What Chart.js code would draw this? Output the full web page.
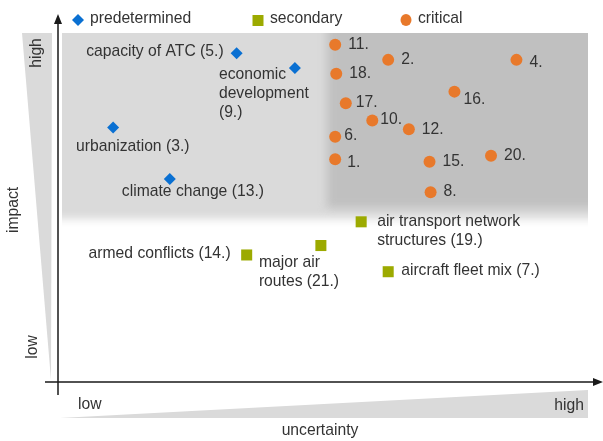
<!DOCTYPE html>
<html lang="en">
<head>
  <meta charset="UTF-8" />
  <title>Impact / uncertainty</title>
  <script src="https://cdn.jsdelivr.net/npm/chart.js"></script>
<style>
  body { margin: 0; background: #fff; }
  #wrap { width: 603px; height: 441px; }
</style>
</head>
<body>
  <div id="wrap"><canvas id="matrix" width="603" height="441"></canvas></div>
<script>
  // values, 0..100 on both axes
  const predeterminedNames = ['capacity of ATC (5.)', 'economic\ndevelopment\n(9.)', 'urbanization (3.)', 'climate change (13.)'];
  const predeterminedX = [33.7, 44.7, 10.4, 21.1];
  const predeterminedY = [94.2, 90.0, 72.9, 58.2];

  const secondaryNames = ['armed conflicts (14.)', 'major air\nroutes (21.)', 'air transport network\nstructures (19.)', 'aircraft fleet mix (7.)'];
  const secondaryX = [35.6, 49.6, 57.2, 62.3];
  const secondaryY = [36.4, 39.1, 45.9, 31.6];

  const criticalNames = ['11.', '2.', '4.', '18.', '16.', '17.', '10.', '12.', '6.', '1.', '15.', '20.', '8.'];
  const criticalX = [52.3, 62.3, 86.5, 52.5, 74.8, 54.3, 59.3, 66.2, 52.3, 52.3, 70.1, 81.7, 70.3];
  const criticalY = [96.6, 92.3, 92.3, 88.3, 83.2, 79.9, 74.9, 72.4, 70.3, 63.8, 63.1, 64.8, 54.4];

  const seriesNames = ['predetermined', 'secondary', 'critical'];

  const toPoints = (xs, ys) => xs.map((x, i) => ({ x: x, y: ys[i] }));

  // label placement: [dx, dy, align] relative to the marker
  const labelPos = {
    'capacity of ATC (5.)': [-13, -2, 'right'],
    'economic\ndevelopment\n(9.)': [-76, 7, 'left'],
    'urbanization (3.)': [-37, 19, 'left'],
    'climate change (13.)': [-48, 13, 'left'],
    'armed conflicts (14.)': [-16, -1, 'right'],
    'major air\nroutes (21.)': [-62, 17, 'left'],
    'air transport network\nstructures (19.)': [16, 0, 'left'],
    'aircraft fleet mix (7.)': [13, -1, 'left'],
    '4.': [13, 3, 'left'],
    '16.': [9, 8, 'left'],
    '17.': [10, 0, 'left'],
    '10.': [8, -1, 'left'],
    '6.': [9, -1, 'left'],
    '1.': [12, 3, 'left']
  };

  const FONT = '15.7px "Liberation Sans", Arial, sans-serif';
  const TEXT = '#333';

  const backdrop = {
    id: 'backdrop',
    beforeDatasetsDraw(chart) {
      const c = chart.ctx;
      c.save();
      // wedges along the axes
      c.fillStyle = '#dadada';
      c.beginPath();
      c.moveTo(22, 33); c.lineTo(52, 33); c.lineTo(51, 380); c.closePath();
      c.fill();
      c.beginPath();
      c.moveTo(60, 418); c.lineTo(588, 390); c.lineTo(588, 418); c.closePath();
      c.fill();

      // shaded upper area, soft bottom and soft split
      c.save();
      c.beginPath();
      c.rect(62, 33, 526, 215);
      c.clip();
      c.filter = 'blur(4px)';
      c.fillStyle = '#dadada';
      c.fillRect(20, 0, 620, 219);
      c.fillStyle = '#c0c0c0';
      c.fillRect(327, 0, 320, 208);
      c.restore();

      // axes
      c.strokeStyle = '#1a1a1a';
      c.fillStyle = '#1a1a1a';
      c.lineWidth = 1.5;
      c.beginPath();
      c.moveTo(58, 395); c.lineTo(58, 22);
      c.moveTo(45, 382); c.lineTo(594, 382);
      c.stroke();
      c.beginPath();
      c.moveTo(58, 14); c.lineTo(54, 24); c.lineTo(62, 24); c.closePath();
      c.fill();
      c.beginPath();
      c.moveTo(603, 382); c.lineTo(593, 378); c.lineTo(593, 386); c.closePath();
      c.fill();

      // axis words
      c.font = FONT;
      c.fillStyle = TEXT;
      c.textBaseline = 'middle';
      c.textAlign = 'left';
      c.fillText('low', 78, 405);
      c.textAlign = 'right';
      c.fillText('high', 584, 406);
      c.textAlign = 'center';
      c.fillText('uncertainty', 320, 431);
      const vtext = (t, x, y) => {
        c.save();
        c.translate(x, y);
        c.rotate(-Math.PI / 2);
        c.fillText(t, 0, 0);
        c.restore();
      };
      vtext('high', 37, 53);
      vtext('impact', 14, 210);
      vtext('low', 33, 347);
      c.restore();
    },
    afterDatasetsDraw(chart) {
      const c = chart.ctx;
      c.save();
      c.font = FONT;
      c.fillStyle = TEXT;
      c.textBaseline = 'middle';
      chart.data.datasets.forEach((ds, di) => {
        const meta = chart.getDatasetMeta(di);
        meta.data.forEach((pt, i) => {
          const name = ds.names[i];
          const p = labelPos[name] || [13, 0, 'left'];
          c.textAlign = p[2];
          name.split('\n').forEach((line, k) => {
            c.fillText(line, pt.x + p[0], pt.y + p[1] + k * 19);
          });
        });
      });

      // legend
      const legendX = [78, 258, 406];
      chart.data.datasets.forEach((ds, di) => {
        const x = legendX[di], y = 20;
        c.fillStyle = ds.backgroundColor;
        c.beginPath();
        if (ds.pointStyle === 'rectRot') {
          c.moveTo(x, y - 6); c.lineTo(x + 6, y); c.lineTo(x, y + 6); c.lineTo(x - 6, y);
        } else if (ds.pointStyle === 'rect') {
          c.rect(x - 5.5, y - 5, 11, 11);
        } else {
          c.ellipse(x, y, 5.5, 6, 0, 0, Math.PI * 2);
        }
        c.closePath();
        c.fill();
        c.fillStyle = TEXT;
        c.textAlign = 'left';
        c.fillText(ds.label, x + 12, y - 1);
      });
      c.restore();
    }
  };

  new Chart(document.getElementById('matrix'), {
    type: 'scatter',
    data: {
      datasets: [{
        label: seriesNames[0],
        names: predeterminedNames,
        data: toPoints(predeterminedX, predeterminedY),
        pointStyle: 'rectRot',
        pointRadius: 6,
        backgroundColor: '#0a70d2',
        borderWidth: 0
      }, {
        label: seriesNames[1],
        names: secondaryNames,
        data: toPoints(secondaryX, secondaryY),
        pointStyle: 'rect',
        pointRadius: 7.8,
        backgroundColor: '#9caa00',
        borderWidth: 0
      }, {
        label: seriesNames[2],
        names: criticalNames,
        data: toPoints(criticalX, criticalY),
        pointStyle: 'circle',
        pointRadius: 6,
        backgroundColor: '#e8792b',
        borderWidth: 0
      }]
    },
    options: {
      responsive: false,
      animation: false,
      devicePixelRatio: 1,
      layout: { padding: { left: 58, right: 15, top: 33, bottom: 59 } },
      scales: {
        x: { type: 'linear', min: 0, max: 100, display: false },
        y: { type: 'linear', min: 0, max: 100, display: false }
      },
      plugins: {
        legend: { display: false },
        tooltip: { enabled: false }
      }
    },
    plugins: [backdrop]
  });
</script>
</body>
</html>
